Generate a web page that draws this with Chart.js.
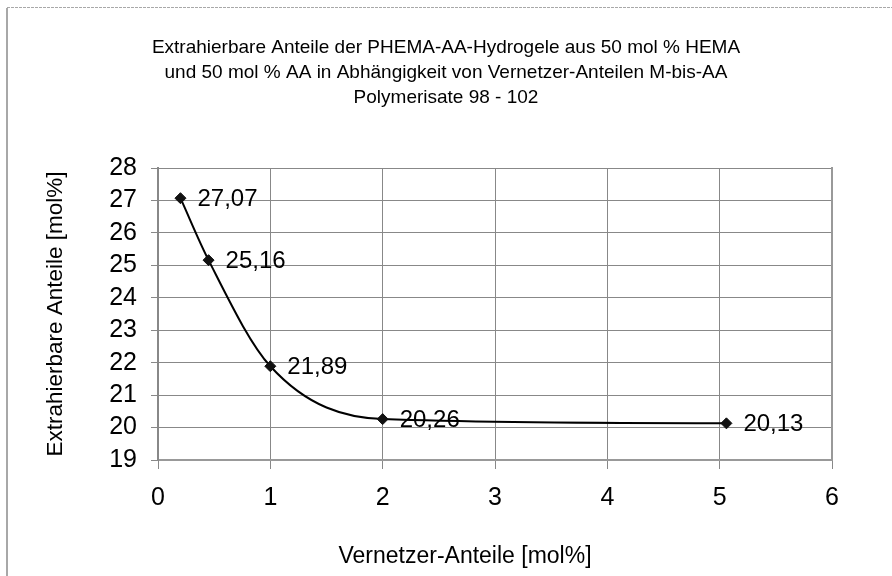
<!DOCTYPE html>
<html>
<head>
<meta charset="utf-8">
<script src="https://cdn.jsdelivr.net/npm/chart.js@4/dist/chart.umd.min.js"></script>
<style>
  body { margin: 0; background: #fff; }
  canvas { display: block; }
</style>
</head>
<body>
<canvas id="chart" width="892" height="576"></canvas>
<script>
// values
const vernetzer = [0.2, 0.45, 1, 2, 5.06];        // x: Vernetzer-Anteile [mol%]
const extrahierbar = [27.07, 25.16, 21.89, 20.26, 20.13]; // y: Extrahierbare Anteile [mol%]
const titleLines = [
  'Extrahierbare Anteile der PHEMA-AA-Hydrogele aus 50 mol % HEMA',
  'und 50 mol % AA in Abhängigkeit von Vernetzer-Anteilen M-bis-AA',
  'Polymerisate 98 - 102'
];
const xTitle = 'Vernetzer-Anteile [mol%]';
const yTitle = 'Extrahierbare Anteile [mol%]';

const FONT = "'Liberation Sans', Arial, sans-serif";
const points = vernetzer.map((x, i) => ({ x: x, y: extrahierbar[i] }));

// outer frame of the chart object (left edge + dashed top edge)
const framePlugin = {
  id: 'frame',
  beforeDraw(chart) {
    const ctx = chart.ctx;
    ctx.save();
    ctx.fillStyle = '#fff';
    ctx.fillRect(0, 0, chart.width, chart.height);
    ctx.strokeStyle = '#a8a8a8';
    ctx.lineWidth = 2;
    ctx.beginPath();
    ctx.moveTo(7, 8);
    ctx.lineTo(7, chart.height);
    ctx.stroke();
    ctx.lineWidth = 1;
    ctx.setLineDash([3, 1]);
    ctx.beginPath();
    ctx.moveTo(7, 7.5);
    ctx.lineTo(chart.width, 7.5);
    ctx.stroke();
    ctx.restore();
  }
};

// value labels next to each point, plus the x-axis title
const labelPlugin = {
  id: 'valueLabels',
  afterDatasetsDraw(chart) {
    const ctx = chart.ctx;
    const meta = chart.getDatasetMeta(0);
    ctx.save();
    ctx.fillStyle = '#000';
    ctx.font = '24px ' + FONT;
    ctx.textAlign = 'left';
    ctx.textBaseline = 'middle';
    meta.data.forEach((pt, i) => {
      const txt = extrahierbar[i].toFixed(2).replace('.', ',');
      ctx.fillText(txt, pt.x + 17, pt.y + 1);
    });
    ctx.font = '23px ' + FONT;
    ctx.textAlign = 'center';
    ctx.fillText(xTitle, 465, 557);
    ctx.restore();
  }
};

new Chart(document.getElementById('chart'), {
  type: 'scatter',
  data: {
    datasets: [{
      data: points,
      showLine: true,
      borderColor: '#000',
      borderWidth: 2,
      cubicInterpolationMode: 'monotone',
      pointStyle: 'rectRot',
      pointRadius: 5.5,
      pointBackgroundColor: '#111',
      pointBorderColor: '#111',
      pointBorderWidth: 1
    }]
  },
  options: {
    responsive: false,
    devicePixelRatio: 1,
    animation: false,
    layout: { padding: 0 },
    plugins: {
      legend: { display: false },
      tooltip: { enabled: false },
      title: {
        display: true,
        text: titleLines,
        color: '#000',
        font: { family: FONT, size: 19, weight: 'normal', lineHeight: 1.316 },
        padding: { top: 35, bottom: 58 }
      }
    },
    scales: {
      x: {
        type: 'linear',
        min: 0,
        max: 6,
        ticks: { stepSize: 1, autoSkip: false, color: '#000', padding: 14, font: { family: FONT, size: 25 } },
        grid: { color: '#888', lineWidth: 1, tickLength: 9 },
        border: { color: '#999', width: 2 },
        afterFit(s) { s.height = 116; }
      },
      y: {
        type: 'linear',
        min: 19,
        max: 28,
        ticks: { stepSize: 1, autoSkip: false, color: '#000', padding: 14, font: { family: FONT, size: 25 } },
        grid: { color: '#888', lineWidth: 1, tickLength: 7 },
        border: { color: '#888', width: 2 },
        title: {
          display: true,
          text: yTitle,
          color: '#000',
          font: { family: FONT, size: 22.5 },
          padding: { top: 42, bottom: 0 }
        },
        afterFit(s) { s.width = 158; }
      },
      // empty right axis: only its border, closing the plot area
      y2: {
        type: 'linear',
        position: 'right',
        ticks: { display: false },
        grid: { display: false },
        border: { color: '#999', width: 2 },
        afterFit(s) { s.width = 60; }
      }
    }
  },
  plugins: [framePlugin, labelPlugin]
});
</script>
</body>
</html>
